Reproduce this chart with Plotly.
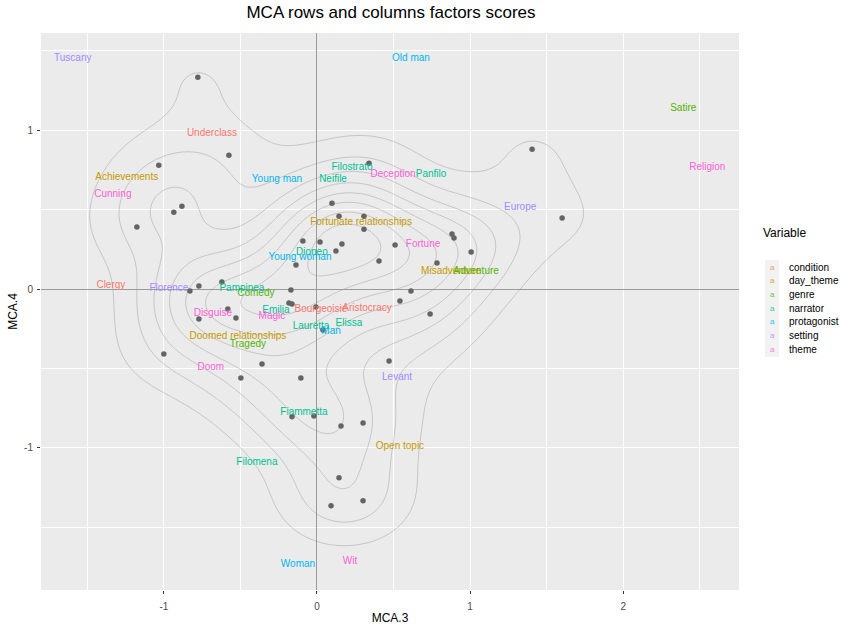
import numpy as np
import plotly.graph_objects as go

# Individuals (rows): factor scores on MCA dimensions 3 and 4
row_mca3 = [-0.778, -0.575, -1.033, -0.882, -0.935, -1.176, 1.405, 1.601, 0.340, 0.098,
            0.144, 0.307, 0.307, -0.092, 0.020, 0.163, 0.124, 0.510, 0.405, -0.137,
            0.882, 0.895, 1.007, 0.784, 0.614, 0.542, 0.739, 0.471, -0.771, -0.621,
            -0.170, -0.183, -0.163, -0.007, -0.582, -0.771, -0.529, 0.039, -0.359, -0.497,
            -0.105, -1.000, -0.830, -0.163, -0.020, 0.157, 0.301, 0.144, 0.092, 0.301]
row_mca4 = [1.333, 0.843, 0.780, 0.522, 0.484, 0.390, 0.881, 0.447, 0.792, 0.541,
            0.459, 0.459, 0.377, 0.302, 0.296, 0.283, 0.239, 0.277, 0.176, 0.151,
            0.346, 0.321, 0.233, 0.164, -0.013, -0.075, -0.157, -0.453, 0.019, 0.044,
            -0.006, -0.088, -0.094, -0.113, -0.126, -0.189, -0.182, -0.258, -0.472, -0.560,
            -0.560, -0.409, -0.013, -0.805, -0.799, -0.862, -0.843, -1.189, -1.365, -1.333]

# Categories (columns): label, variable, factor scores
cat_labels = ["Underclass", "Clergy", "Bourgeoisie", "Aristocracy",
              "Achievements", "Fortunate relationships", "Misadventure", "Doomed relationships", "Open topic",
              "Satire", "Adventure", "Comedy", "Tragedy",
              "Filostrato", "Neifile", "Panfilo", "Dioneo", "Pampinea", "Emilia", "Lauretta",
              "Elissa", "Fiammetta", "Filomena",
              "Old man", "Young man", "Young woman", "Man", "Woman",
              "Tuscany", "Europe", "Florence", "Levant",
              "Religion", "Cunning", "Deception", "Fortune", "Disguise", "Magic", "Doom", "Wit"]
cat_variable = ["condition"] * 4 + ["day_theme"] * 5 + ["genre"] * 4 + ["narrator"] * 10 + \
               ["protagonist"] * 5 + ["setting"] * 4 + ["theme"] * 8
cat_mca3 = [-0.686, -1.346, 0.026, 0.327,
            -1.242, 0.288, 0.876, -0.516, 0.542,
            2.392, 1.039, -0.399, -0.451,
            0.229, 0.105, 0.745, -0.033, -0.490, -0.268, -0.039, 0.209, -0.085, -0.392,
            0.614, -0.261, -0.111, 0.092, -0.124,
            -1.595, 1.327, -0.967, 0.523,
            2.549, -1.333, 0.497, 0.693, -0.680, -0.294, -0.693, 0.216]
cat_mca4 = [0.981, 0.025, -0.132, -0.120,
            0.704, 0.421, 0.113, -0.296, -0.994,
            1.138, 0.113, -0.031, -0.352,
            0.767, 0.692, 0.723, 0.233, 0.006, -0.138, -0.233, -0.214, -0.780, -1.094,
            1.453, 0.692, 0.201, -0.270, -1.736,
            1.453, 0.516, 0.006, -0.560,
            0.767, 0.597, 0.723, 0.283, -0.151, -0.176, -0.497, -1.717]

variables = ["condition", "day_theme", "genre", "narrator", "protagonist", "setting", "theme"]
var_colors = ["#F8766D", "#C49A00", "#53B400", "#00C094", "#00B6EB", "#A58AFF", "#FB61D7"]

# Axis ticks
x_ticks = [-1, 0, 1, 2]
y_ticks = [-1, 0, 1]

FONT = "Liberation Sans, Arial, sans-serif"

rx = np.array(row_mca3)
ry = np.array(row_mca4)

# Continuous scale limits (all layers) and 5% expansion
all_x = np.concatenate([rx, cat_mca3])
all_y = np.concatenate([ry, cat_mca4])
x_lim = (all_x.min(), all_x.max())
y_lim = (all_y.min(), all_y.max())
xpad = 0.05 * (x_lim[1] - x_lim[0])
ypad = 0.05 * (y_lim[1] - y_lim[0])
x_range = [x_lim[0] - xpad, x_lim[1] + xpad]
y_range = [y_lim[0] - ypad, y_lim[1] + ypad]


# 2-D kernel density of the individuals (normal kernel, normal-reference bandwidth)
def bandwidth_nrd(v):
    q75, q25 = np.percentile(v, [75, 25])
    return 4 * 1.06 * min(np.std(v, ddof=1), (q75 - q25) / 1.34) * len(v) ** (-0.2)


def pretty(lo, hi, n=10):
    cell = (hi - lo) / n
    base = 10 ** np.floor(np.log10(cell))
    unit = base
    if 2 * base - cell < 1.5 * (cell - unit):
        unit = 2 * base
        if 5 * base - cell < 2.75 * (cell - unit):
            unit = 5 * base
            if 10 * base - cell < 1.5 * (cell - unit):
                unit = 10 * base
    start = np.floor(lo / unit + 1e-9) * unit
    end = np.ceil(hi / unit - 1e-9) * unit
    return np.arange(start, end + unit / 2, unit), unit


hx = bandwidth_nrd(rx) / 4
hy = bandwidth_nrd(ry) / 4
gx = np.linspace(x_lim[0], x_lim[1], 100)
gy = np.linspace(y_lim[0], y_lim[1], 100)
phi = lambda u: np.exp(-0.5 * u ** 2) / np.sqrt(2 * np.pi)
kx = phi((gx[:, None] - rx[None, :]) / hx)
ky = phi((gy[:, None] - ry[None, :]) / hy)
dens = ky @ kx.T / (len(rx) * hx * hy)
breaks, step = pretty(dens.min(), dens.max(), 10)
breaks = breaks[breaks > dens.min()]

fig = go.Figure()

fig.add_trace(go.Contour(
    x=gx, y=gy, z=dens,
    contours=dict(coloring="none", start=breaks[0], end=breaks[-1], size=step),
    line=dict(color="rgba(150,150,150,0.55)", width=0.8, smoothing=1),
    showscale=False, showlegend=False, hoverinfo="skip",
))

fig.add_trace(go.Scatter(
    x=rx, y=ry, mode="markers",
    marker=dict(size=5.5, color="rgb(100,100,100)"),
    showlegend=False, hoverinfo="skip",
))

for var, col in zip(variables, var_colors):
    idx = [i for i, v in enumerate(cat_variable) if v == var]
    fig.add_trace(go.Scatter(
        x=[cat_mca3[i] for i in idx], y=[cat_mca4[i] for i in idx],
        text=[cat_labels[i] for i in idx],
        mode="text", textposition="middle center",
        textfont=dict(family=FONT, size=10, color=col),
        name=var, showlegend=False, hoverinfo="skip",
    ))

# Panel geometry in pixels
W, H = 850, 625
L, R, T, B = 41, 739, 33, 590


def paper_x(px):
    return (px - L) / (R - L)


def paper_y(py):
    return (B - py) / (B - T)


def half_steps(rng):
    lo, hi = np.ceil(rng[0] * 2) / 2, np.floor(rng[1] * 2) / 2
    return [v for v in np.arange(lo, hi + 0.25, 0.5) if abs(v - round(v)) > 0.25]


axis_common = dict(
    showgrid=True, gridcolor="white", gridwidth=1.1,
    zeroline=True, zerolinecolor="#9a9a9a", zerolinewidth=1,
    ticks="outside", ticklen=3, tickcolor="#333333", tickwidth=1,
    tickfont=dict(family=FONT, size=10, color="#4D4D4D"),
    showline=False, tickmode="array", automargin=False,
)

fig.update_layout(
    width=W, height=H,
    margin=dict(l=L, r=W - R, t=T, b=H - B),
    paper_bgcolor="white", plot_bgcolor="#EBEBEB",
    title=dict(text="MCA rows and columns factors scores", x=paper_x(391), xref="paper",
               y=1 - 12 / H, yref="container", xanchor="center", yanchor="middle",
               font=dict(family=FONT, size=17, color="black")),
    xaxis=dict(range=x_range, tickvals=x_ticks, ticktext=[str(v) for v in x_ticks],
               ticklabelstandoff=4,
               minor=dict(tickmode="array", tickvals=half_steps(x_range), showgrid=True,
                          gridcolor="white", gridwidth=0.5, ticks=""),
               title=dict(text="MCA.3", standoff=5,
                          font=dict(family=FONT, size=12, color="black")),
               **axis_common),
    yaxis=dict(range=y_range, tickvals=y_ticks, ticktext=[str(v) for v in y_ticks],
               ticklabelstandoff=2,
               minor=dict(tickmode="array", tickvals=half_steps(y_range), showgrid=True,
                          gridcolor="white", gridwidth=0.5, ticks=""),
               title=dict(text="MCA.4", standoff=3,
                          font=dict(family=FONT, size=12, color="black")),
               **axis_common),
    showlegend=False,
)

# Legend: title, key background, coloured "a" keys and labels
fig.add_annotation(x=paper_x(761), y=paper_y(233), xref="paper", yref="paper",
                   text="Variable", showarrow=False, xanchor="left", yanchor="middle",
                   font=dict(family=FONT, size=12, color="black"))
fig.add_shape(type="rect", xref="paper", yref="paper",
              x0=paper_x(765), x1=paper_x(779), y0=paper_y(260), y1=paper_y(357),
              fillcolor="#F2F2F2", line=dict(width=0), layer="below")
for k, (var, col) in enumerate(zip(variables, var_colors)):
    yy = 267.3 + k * 13.67
    fig.add_annotation(x=paper_x(772), y=paper_y(yy), xref="paper", yref="paper",
                       text="a", showarrow=False, xanchor="center", yanchor="middle",
                       font=dict(family=FONT, size=8, color=col), opacity=0.8)
    fig.add_annotation(x=paper_x(787), y=paper_y(yy), xref="paper", yref="paper",
                       text=var, showarrow=False, xanchor="left", yanchor="middle",
                       font=dict(family=FONT, size=10, color="black"))

fig.write_html("out.html")
